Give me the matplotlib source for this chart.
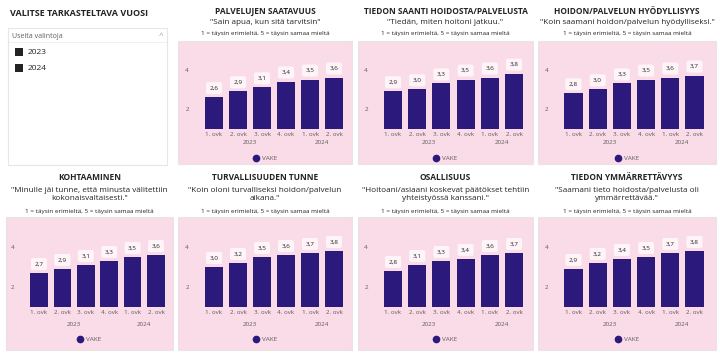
import numpy as np
import matplotlib.pyplot as plt
from matplotlib.patches import Rectangle
from matplotlib.lines import Line2D

plt.rcParams["font.family"] = ["Open Sans", "DejaVu Sans"]

W, H = 720, 354
DPI = 100

categories = ["1. ovk", "2. ovk", "3. ovk", "4. ovk", "1. ovk", "2. ovk"]
years = ["2023", "2024"]
year_groups = [(0, 3), (4, 5)]
years_slicer = ["2023", "2024"]

titles = [
    "PALVELUJEN SAATAVUUS",
    "TIEDON SAANTI HOIDOSTA/PALVELUSTA",
    "HOIDON/PALVELUN HYÖDYLLISYYS",
    "KOHTAAMINEN",
    "TURVALLISUUDEN TUNNE",
    "OSALLISUUS",
    "TIEDON YMMÄRRETTÄVYYS",
]
quotes = [
    "\"Sain apua, kun sitä tarvitsin\"",
    "\"Tiedän, miten hoitoni jatkuu.\"",
    "\"Koin saamani hoidon/palvelun hyödylliseksi.\"",
    "\"Minulle jäi tunne, että minusta välitettiin\nkokonaisvaltaisesti.\"",
    "\"Koin oloni turvalliseksi hoidon/palvelun\naikana.\"",
    "\"Hoitoani/asiaani koskevat päätökset tehtiin\nyhteistyössä kanssani.\"",
    "\"Saamani tieto hoidosta/palvelusta oli\nymmärrettävää.\"",
]
scale_note = "1 = täysin erimieltä, 5 = täysin samaa mieltä"
series_name = "VAKE"

saatavuus = [2.6, 2.9, 3.1, 3.4, 3.5, 3.6]
tiedon_saanti = [2.9, 3.0, 3.3, 3.5, 3.6, 3.8]
hyodyllisyys = [2.8, 3.0, 3.3, 3.5, 3.6, 3.7]
kohtaaminen = [2.7, 2.9, 3.1, 3.3, 3.5, 3.6]
turvallisuus = [3.0, 3.2, 3.5, 3.6, 3.7, 3.8]
osallisuus = [2.8, 3.1, 3.3, 3.4, 3.6, 3.7]
ymmarrettavyys = [2.9, 3.2, 3.4, 3.5, 3.7, 3.8]
values = [saatavuus, tiedon_saanti, hyodyllisyys, kohtaaminen,
          turvallisuus, osallisuus, ymmarrettavyys]

PINK = "#fadbe8"
BAR = "#2b1a7c"
TXT = "#252423"
GREY = "#605e5c"

fig = plt.figure(figsize=(W / DPI, H / DPI), dpi=DPI)
bg = fig.add_axes([0, 0, 1, 1])
bg.set_xlim(0, W)
bg.set_ylim(H, 0)
bg.axis("off")


def add_px_axes(x0, y0, x1, y1):
    return fig.add_axes([x0 / W, 1 - y1 / H, (x1 - x0) / W, (y1 - y0) / H])


# slicer
bg.text(10, 14, "VALITSE TARKASTELTAVA VUOSI", fontsize=6.5, fontweight="bold",
        color=TXT, va="center", ha="left")
bg.add_patch(Rectangle((8, 28), 159, 137, facecolor="white", edgecolor="#e6e6e6", lw=0.8))
bg.text(12, 36, "Useita valintoja", fontsize=5.0, color=GREY, va="center")
bg.plot([9, 166], [42, 42], color="#eeeeee", lw=0.6)
bg.text(161, 36.5, "^", fontsize=6, color="#a0a0a0", va="center", ha="center")
for i, yr in enumerate(years_slicer):
    yy = 52 + 16 * i
    bg.add_patch(Rectangle((15, yy - 4), 8, 8, facecolor="#252423", edgecolor="none"))
    bg.text(28, yy, yr, fontsize=6.0, color=TXT, va="center")

# panel geometry: (pink x0, x1, first bar center, px per unit)
cols = [(6, 173, 39, 23.4), (178, 352, 214, 24), (358, 533, 393, 24.2), (538, 716, 573.5, 24.2)]
rows = {
    "top": dict(pink=(41, 164), title=12, quote=23, note=34, ax=(58, 128.5),
                year=142, legend=158),
    "bottom": dict(pink=(217, 350), title=177, quote=189, note=211, ax=(235, 307),
                   year=324, legend=339),
}
layout = [("top", 1), ("top", 2), ("top", 3),
          ("bottom", 0), ("bottom", 1), ("bottom", 2), ("bottom", 3)]

x = np.arange(len(categories))
for k, (rname, ci) in enumerate(layout):
    r = rows[rname]
    px0, px1, c0, ppu = cols[ci]
    cx = (px0 + px1) / 2
    bg.add_patch(Rectangle((px0, r["pink"][0]), px1 - px0, r["pink"][1] - r["pink"][0],
                           facecolor=PINK, edgecolor="#e8e4e6", lw=0.8))
    bg.text(cx, r["title"], titles[k], fontsize=6.0, fontweight="bold", color=TXT,
            ha="center", va="center")
    q = quotes[k]
    if "\n" in q:
        bg.text(cx, r["quote"] + 5.5, q, fontsize=5.9, color=TXT, ha="center", va="center",
                linespacing=1.15)
    else:
        bg.text(cx, r["quote"], q, fontsize=5.9, color=TXT, ha="center", va="center")
    bg.text(cx, r["note"], scale_note, fontsize=4.6, color=TXT, ha="center", va="center")

    ax_left = c0 - 0.7 * ppu
    ax_right = c0 + 5.55 * ppu
    ax = add_px_axes(ax_left, r["ax"][0], ax_right, r["ax"][1])
    ax.set_facecolor("none")
    ax.bar(x, values[k], width=0.75, bottom=0, color=BAR)
    ax.set_xlim(-0.7, 5.55)
    ax.set_ylim(1, 4.6)
    ax.set_yticks([2, 4])
    ax.set_xticks(x)
    ax.set_xticklabels(categories)
    ax.tick_params(length=0, labelsize=4.5, labelcolor=GREY)
    ax.tick_params(axis="y", pad=6)
    ax.tick_params(axis="x", pad=2.5)
    for s in ax.spines.values():
        s.set_visible(False)
    for xi, v in zip(x, values[k]):
        ax.annotate(f"{v:.1f}".replace(".", ","), (xi, v), xytext=(0, 6.5),
                    textcoords="offset points", ha="center", va="center",
                    fontsize=4.6, color=TXT,
                    bbox=dict(boxstyle="round,pad=0.55,rounding_size=0.3",
                              facecolor="#fff5f9", edgecolor="none"))
    for yr, (a, b) in zip(years, year_groups):
        bx = c0 + (a + b) / 2 * ppu
        bg.text(bx, r["year"], yr, fontsize=4.5, color=GREY, ha="center", va="center")
    h = Line2D([], [], marker="o", linestyle="none", color=BAR, markersize=4.5)
    leg = ax.legend([h], [series_name], loc="center",
                    bbox_to_anchor=(cx / W, 1 - r["legend"] / H),
                    bbox_transform=fig.transFigure, frameon=False, fontsize=4.6,
                    handletextpad=0.5, borderpad=0, handlelength=0.8)
    for t in leg.get_texts():
        t.set_color(GREY)

fig.savefig("out.png", dpi=DPI)
